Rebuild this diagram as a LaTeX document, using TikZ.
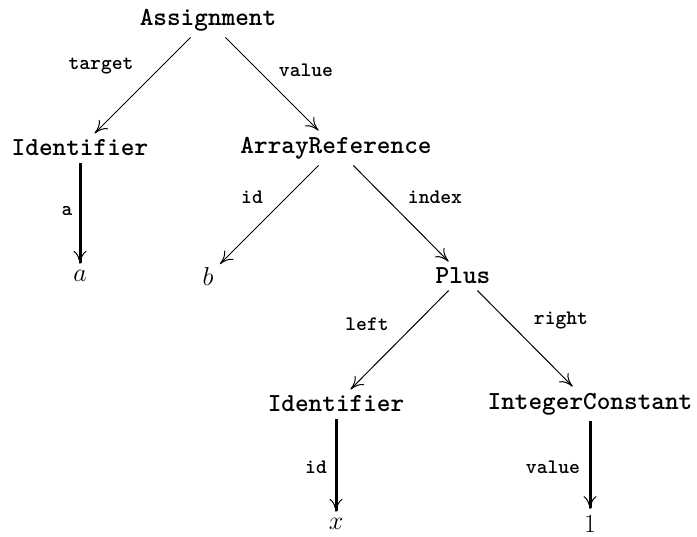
\RequirePackage{fix-cm}
\documentclass[tikz,border=0pt]{standalone}
\usetikzlibrary{arrows.meta}
\tikzset{
  term/.style={font=\fontsize{26}{30}\selectfont\ttfamily\bfseries, inner sep=0pt, outer sep=6.5pt},
  leaf/.style={font=\fontsize{26}{30}\selectfont, inner sep=0pt, outer sep=6.5pt},
  lbl/.style={font=\fontsize{20.6}{24}\selectfont\ttfamily\bfseries, inner sep=0pt},
  tip/.style={-{Computer Modern Rightarrow[length=13pt,width=13pt,line width=1pt]}},
  link/.style={tip, line width=1pt},
  attr/.style={tip, line width=3pt},
}
\begin{document}
\begin{tikzpicture}[x=1pt, y=-1pt]
  \useasboundingbox (0,0) rectangle (697,537);

  % tree nodes
  \node[term] (asg)  at (208,20)  {Assignment};
  \node[term] (id1)  at (80,148)  {Identifier};
  \node[term] (aref) at (336,148) {ArrayReference};
  \node[leaf] (va)   at (80,276)  {$a$};
  \node[leaf] (vb)   at (208,276) {$b$};
  \node[term] (plus) at (463,276) {Plus};
  \node[term] (id2)  at (336,404) {Identifier};
  \node[term] (ic)   at (590,404) {IntegerConstant};
  \node[leaf] (vx)   at (336,524) {$x$};
  \node[leaf] (v1)   at (590,524) {$1$};

  % child links
  \draw[link] (asg)  -- (id1);
  \draw[link] (asg)  -- (aref);
  \draw[link] (aref) -- (vb);
  \draw[link] (aref) -- (plus);
  \draw[link] (plus) -- (id2);
  \draw[link] (plus) -- (ic);

  % attribute links
  \draw[attr] (id1) -- (va);
  \draw[attr] (id2) -- (vx);
  \draw[attr] (ic)  -- (v1);

  % link labels
  \node[lbl] (ltarget) at (101,66)  {target};
  \node[lbl] (lvalue1) at (306,70)  {value};
  \node[lbl] (la)      at (67,211)  {a};
  \node[lbl] (lid1)    at (252,197) {id};
  \node[lbl] (lindex)  at (435,197) {index};
  \node[lbl] (lleft)   at (367,324) {left};
  \node[lbl] (lright)  at (561,321) {right};
  \node[lbl] (lid2)    at (316,467) {id};
  \node[lbl] (lvalue2) at (553,467) {value};
\end{tikzpicture}
\end{document}
